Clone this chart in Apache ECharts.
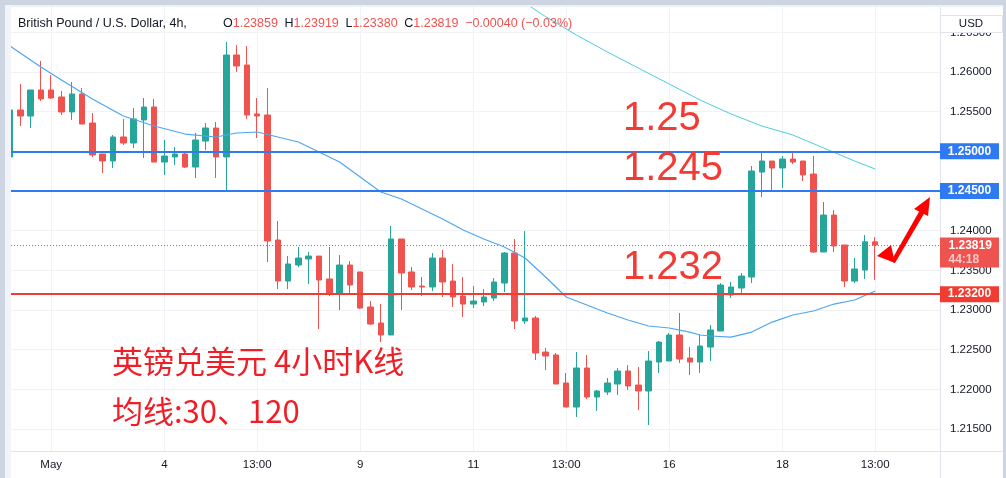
<!DOCTYPE html>
<html><head><meta charset="utf-8">
<script src="https://cdn.jsdelivr.net/npm/echarts@6/dist/echarts.min.js"></script>
<style>html,body{margin:0;padding:0;background:#fff;}#c{width:1006px;height:478px;}</style>
</head><body><div id="c"></div>
<script>
// ---- data (GBP/USD 4h candles) ----
const opens = [1.24929,1.25521,1.25445,1.25773,1.25773,1.25685,1.25496,1.25723,1.25357,1.24966,
1.24878,1.25181,1.25105,1.25395,1.25559,1.24865,1.24929,1.24966,1.24802,1.25130,
1.25294,1.24929,1.26214,1.26088,1.25471,1.25458,1.23882,1.23365,1.23567,1.23643,
1.23680,1.23391,1.23201,1.23567,1.23479,1.23038,1.22836,1.22685,1.23895,1.23479,
1.23302,1.23290,1.23655,1.23365,1.23176,1.23075,1.23101,1.23151,1.23340,1.23718,
1.22861,1.22899,1.22470,1.22433,1.22080,1.21777,1.22269,1.21903,1.21966,1.22067,
1.22231,1.22054,1.21979,1.22344,1.22357,1.22685,1.22395,1.22344,1.22533,1.22735,
1.23189,1.23277,1.23416,1.24739,1.24878,1.24790,1.24903,1.24878,1.24714,1.23731,
1.24197,1.23819,1.23365,1.23504,1.23859];
const closes = [1.25521,1.25445,1.25773,1.25660,1.25672,1.25496,1.25723,1.25344,1.24954,1.24878,
1.25181,1.25105,1.25408,1.25559,1.24865,1.24941,1.24966,1.24802,1.25143,1.25294,
1.24929,1.26214,1.26076,1.25458,1.25445,1.23870,1.23365,1.23580,1.23655,1.23680,
1.23378,1.23201,1.23567,1.23315,1.23025,1.22823,1.22685,1.23895,1.23466,1.23290,
1.23290,1.23655,1.23353,1.23164,1.23075,1.23113,1.23164,1.23353,1.23718,1.22861,
1.22899,1.22458,1.22420,1.22067,1.21777,1.22269,1.21903,1.21979,1.22080,1.22231,
1.22042,1.21979,1.22357,1.22596,1.22685,1.22382,1.22344,1.22546,1.22748,1.23315,
1.23290,1.23428,1.24752,1.24878,1.24790,1.24903,1.24865,1.24702,1.23731,1.24197,
1.23807,1.23365,1.23517,1.23859,1.23819];
const lows = [1.24916,1.25319,1.25294,1.25634,1.25660,1.25458,1.25395,1.25344,1.24929,1.24727,
1.24790,1.25080,1.25042,1.24916,1.24865,1.24702,1.24828,1.24790,1.24664,1.25017,
1.24664,1.24513,1.26000,1.25408,1.25168,1.23605,1.23264,1.23264,1.23542,1.23328,
1.22760,1.23176,1.23000,1.23214,1.23012,1.22811,1.22596,1.22685,1.23000,1.23252,
1.23176,1.23239,1.23164,1.23038,1.22912,1.23025,1.23050,1.23113,1.23227,1.22760,
1.22823,1.22370,1.22243,1.22067,1.21777,1.21651,1.21878,1.21727,1.21928,1.21928,
1.21991,1.21739,1.21550,1.22206,1.22357,1.22332,1.22180,1.22206,1.22357,1.22735,
1.23151,1.23214,1.23340,1.24424,1.24513,1.24538,1.24840,1.24626,1.23718,1.23731,
1.23731,1.23290,1.23340,1.23391,1.23380];
const highs = [1.25546,1.25849,1.25773,1.26139,1.25962,1.25760,1.25874,1.25798,1.25483,1.24966,
1.25206,1.25408,1.25546,1.25672,1.25660,1.25143,1.25055,1.24979,1.25231,1.25357,
1.25370,1.26378,1.26340,1.26328,1.25672,1.25798,1.24122,1.23680,1.23794,1.23731,
1.23680,1.23794,1.23693,1.23617,1.23479,1.23113,1.23075,1.24059,1.23895,1.23542,
1.23416,1.23718,1.23756,1.23580,1.23416,1.23302,1.23264,1.23403,1.23731,1.23895,
1.23996,1.22924,1.22521,1.22458,1.22206,1.22470,1.22433,1.21991,1.22143,1.22269,
1.22306,1.22281,1.22483,1.22609,1.22710,1.22962,1.22533,1.22697,1.22811,1.23340,
1.23353,1.23466,1.24815,1.24979,1.24878,1.24941,1.24979,1.24878,1.24941,1.24361,
1.24260,1.23819,1.23655,1.23945,1.23919];
// moving averages: [bar index, price]
const ma30 = [[0,1.26328],[3,1.26063],[5,1.25899],[8,1.25660],[11,1.25445],[14,1.25319],[17,1.25218],
[20,1.25181],[22,1.25231],[24,1.25244],[26,1.25181],[28,1.25118],[30,1.24992],[32,1.24865],[34,1.24676],
[36,1.24487],[38,1.24399],[40,1.24273],[42,1.24147],[44,1.24008],[46,1.23895],[48,1.23794],[50,1.23655],
[52,1.23416],[54,1.23164],[56,1.23063],[58,1.22962],[60,1.22874],[62,1.22798],[64,1.22773],[66,1.22722],
[67,1.22685],[68,1.22672],[70,1.22659],[72,1.22722],[74,1.22848],[76,1.22937],[78,1.22987],[80,1.23075],
[82,1.23126],[84,1.23239]];
const ma120 = [[50,1.26868],[52,1.26698],[55,1.26466],[58,1.26252],[61,1.26050],[64,1.25849],[67,1.25647],
[70,1.25471],[73,1.25319],[76,1.25206],[79,1.25042],[82,1.24878],[84,1.24777]];
const xTickIdx = [4,15,24,34,45,54,64,75,84];
const xTickLabels = ['May','4','13:00','9','11','13:00','16','18','13:00'];
const yTicks = [1.215,1.22,1.225,1.23,1.235,1.24,1.245,1.25,1.255,1.26,1.265];
const blueLevels = [1.25, 1.245];
const redLevels = [1.232];
const bigLabels = ['1.25','1.245','1.232'];
const title = 'British Pound / U.S. Dollar, 4h,';
const noteLines = ['英镑兑美元 4小时K线','均线:30、120'];
const countdown = '44:18';

// ---- styling / layout ----
const UP = '#26a69a', DOWN = '#ef5350', BLUE = '#2f79f2', RED = '#f23c31';
const XMIN = 0.0971, XMAX = 90.291;
const YMIN = 1.212227, YMAX = 1.268193;
const FONT = 'Liberation Sans';

const candleData = opens.map((o, i) => [i, o, closes[i], lows[i], highs[i]]);
const last = opens.length - 1;
const lastPrice = closes[last];
const chg = closes[last] - closes[last - 1];
const pct = chg / closes[last - 1] * 100;
const fmtSigned = (v, d) => (v < 0 ? '\u2212' : '+') + Math.abs(v).toFixed(d);
const ohlcText = '{k|O}{r|' + opens[last].toFixed(5) + '}  {k|H}{r|' + highs[last].toFixed(5) +
  '}  {k|L}{r|' + lows[last].toFixed(5) + '}  {k|C}{r|' + closes[last].toFixed(5) +
  '}  {r|' + fmtSigned(chg, 5) + ' (' + fmtSigned(pct, 2) + '%)}';

const levelLines = [];
const levelBoxes = [];
const boxLabel = (v) => ({show: true, position: 'inside', formatter: v.toFixed(5), color: '#fff', fontWeight: 'bold', fontSize: 12, fontFamily: FONT});
blueLevels.forEach(v => {
  levelLines.push({yAxis: v, lineStyle: {color: BLUE, width: 2, type: 'solid'}});
  levelBoxes.push({coord: [XMAX - 0.001, v], symbol: 'rect', symbolSize: [59, 16], symbolOffset: [29.5, 0],
    itemStyle: {color: BLUE}, label: boxLabel(v)});
});
redLevels.forEach(v => {
  levelLines.push({yAxis: v, lineStyle: {color: RED, width: 2, type: 'solid'}});
  levelBoxes.push({coord: [XMAX - 0.001, v], symbol: 'rect', symbolSize: [59, 16], symbolOffset: [29.5, 0],
    itemStyle: {color: RED}, label: boxLabel(v)});
});
levelLines.push({yAxis: lastPrice, lineStyle: {color: DOWN, width: 1, type: [1, 2]}});
levelBoxes.push({coord: [XMAX - 0.001, lastPrice], symbol: 'rect', symbolSize: [59, 30], symbolOffset: [29.5, 7.5],
  itemStyle: {color: DOWN}, label: {show: true, position: 'inside', formatter: '{a|' + lastPrice.toFixed(5) + '}\n{b|' + countdown + '}',
  rich: {a: {color: '#fff', fontWeight: 'bold', fontSize: 12, lineHeight: 14, width: 42, align: 'left', fontFamily: FONT},
         b: {color: '#fbc9c8', fontWeight: 'bold', fontSize: 12, lineHeight: 14, width: 42, align: 'left', fontFamily: FONT}}}});

const chart = echarts.init(document.getElementById('c'), null, {renderer: 'canvas'});
const Z = 100;
chart.setOption({
  animation: false,
  backgroundColor: '#ffffff',
  textStyle: {fontFamily: FONT},
  grid: {left: 11, right: 66, top: 7, bottom: 27, containLabel: false, outerBoundsMode: 'none'},
  xAxis: {
    type: 'value', min: XMIN, max: XMAX,
    axisLine: {show: true, lineStyle: {color: '#e0e3eb', width: 1}},
    axisTick: {show: false, customValues: xTickIdx},
    axisLabel: {customValues: xTickIdx, formatter: v => xTickLabels[xTickIdx.indexOf(Math.round(v))],
      color: '#131722', fontSize: 11.5, margin: 8, fontFamily: FONT},
    splitLine: {show: true, lineStyle: {color: '#f0f2f6', width: 1}}
  },
  yAxis: {
    type: 'value', position: 'right', min: YMIN, max: YMAX, scale: true,
    axisLine: {show: true, lineStyle: {color: '#e0e3eb', width: 1}},
    axisTick: {show: false, customValues: yTicks},
    axisLabel: {customValues: yTicks, formatter: v => v.toFixed(5), color: '#131722', fontSize: 11.5, margin: 10, fontFamily: FONT},
    splitLine: {show: true, lineStyle: {color: '#f0f2f6', width: 1}}
  },
  series: [
    {
      type: 'candlestick', data: candleData, barWidth: 6, clip: true, silent: true,
      itemStyle: {color: UP, color0: DOWN, borderColor: UP, borderColor0: DOWN, borderWidth: 1},
      markLine: {silent: true, precision: 6, symbol: ['none', 'none'], label: {show: false}, animation: false, data: levelLines},
      markPoint: {silent: true, precision: 6, animation: false, data: levelBoxes}
    },
    {type: 'line', data: ma30, symbol: 'none', showSymbol: false, clip: true, silent: true, z: 3,
      lineStyle: {color: '#4ea6f2', width: 1.2}},
    {type: 'line', data: ma120, symbol: 'none', showSymbol: false, clip: true, silent: true, z: 3,
      lineStyle: {color: '#4bcbe0', width: 1}}
  ],
  graphic: [
    {type: 'rect', z: Z, shape: {x: 0, y: 0, width: 1006, height: 5}, style: {fill: '#cdd5e3'}},
    {type: 'rect', z: Z, shape: {x: 0, y: 5, width: 1006, height: 2}, style: {fill: '#eef1f6'}},
    {type: 'rect', z: Z, shape: {x: 0, y: 0, width: 5, height: 478}, style: {fill: '#cdd5e3'}},
    {type: 'rect', z: Z, shape: {x: 5, y: 5, width: 6, height: 473}, style: {fill: '#f3f4f8'}},
    {type: 'rect', z: Z, shape: {x: 1003, y: 0, width: 3, height: 478}, style: {fill: '#cdd5e3'}},
    {type: 'line', z: Z, shape: {x1: 940, y1: 451.5, x2: 1003, y2: 451.5}, style: {stroke: '#e0e3eb', lineWidth: 1}},
    {type: 'line', z: Z, shape: {x1: 940.5, y1: 451, x2: 940.5, y2: 478}, style: {stroke: '#e0e3eb', lineWidth: 1}},
    {type: 'rect', z: Z, shape: {x: 940.5, y: 15.5, width: 62, height: 17}, style: {fill: '#ffffff', stroke: '#e0e3eb', lineWidth: 1}},
    {type: 'text', z: Z, x: 971, y: 24, style: {text: 'USD', fill: '#131722', font: '11.5px "Liberation Sans"', textAlign: 'center', textVerticalAlign: 'middle'}},
    {type: 'text', z: Z, x: 18, y: 24, style: {text: title, fill: '#131722', font: '12.5px "Liberation Sans"', textVerticalAlign: 'middle'}},
    {type: 'text', z: Z, x: 223, y: 24, style: {text: ohlcText, textVerticalAlign: 'middle',
      rich: {k: {fill: '#131722', font: '12.5px "Liberation Sans"'}, r: {fill: '#ef5350', font: '12.5px "Liberation Sans"'}}}},
    {type: 'text', z: Z, x: 623, y: 118.5, style: {text: bigLabels[0], fill: '#f23b35', font: '40px "Liberation Sans"', textVerticalAlign: 'middle'}},
    {type: 'text', z: Z, x: 623, y: 168.5, style: {text: bigLabels[1], fill: '#f23b35', font: '40px "Liberation Sans"', textVerticalAlign: 'middle'}},
    {type: 'text', z: Z, x: 623, y: 268, style: {text: bigLabels[2], fill: '#f23b35', font: '40px "Liberation Sans"', textVerticalAlign: 'middle'}},
    {type: 'text', z: Z, x: 112, y: 361, style: {text: noteLines[0], fill: '#ee1f27', font: '31px "Noto Sans CJK SC"', textVerticalAlign: 'middle'}},
    {type: 'text', z: Z, x: 112, y: 411, style: {text: noteLines[1], fill: '#ee1f27', font: '31px "Noto Sans CJK SC"', textVerticalAlign: 'middle'}},
    {type: 'polygon', z: Z, shape: {points: [[930, 197], [914, 209], [928, 216]]}, style: {fill: '#ff0000'}},
    {type: 'polygon', z: Z, shape: {points: [[920, 210], [925, 212], [895, 263], [891, 261]]}, style: {fill: '#ff0000'}},
    {type: 'polygon', z: Z, shape: {points: [[877, 256], [891, 245], [895, 263]]}, style: {fill: '#ff0000'}}
  ]
});
</script></body></html>
